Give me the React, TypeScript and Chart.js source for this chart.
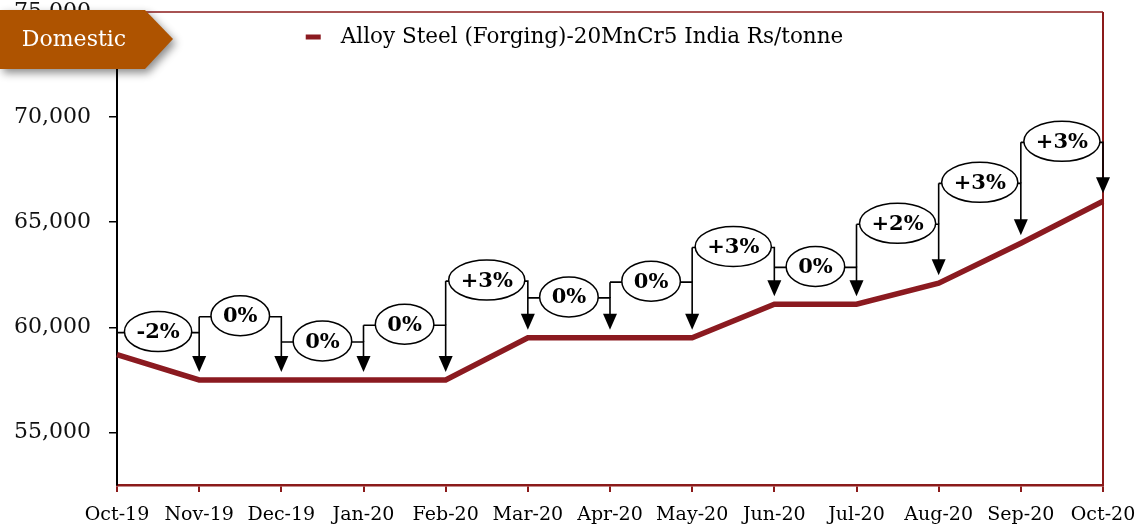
import React, { useEffect, useRef } from "react";
import { Chart, registerables } from "chart.js";

Chart.register(...registerables);

const months = ["Oct-19", "Nov-19", "Dec-19", "Jan-20", "Feb-20", "Mar-20", "Apr-20", "May-20", "Jun-20", "Jul-20", "Aug-20", "Sep-20", "Oct-20"];
const prices = [58700, 57500, 57500, 57500, 57500, 59500, 59500, 59500, 61100, 61100, 62100, 64000, 66000];
const changeLabels = ["-2%", "0%", "0%", "0%", "+3%", "0%", "0%", "+3%", "0%", "+2%", "+3%", "+3%"];
const bracketLevels = [59750, 60500, 59300, 60100, 62200, 61400, 62150, 63800, 62850, 64900, 66850, 68800];
const yTickValues = [55000, 60000, 65000, 70000, 75000];
const yMin = 52500;
const yMax = 75000;
const seriesName = "Alloy Steel (Forging)-20MnCr5 India Rs/tonne";
const tagText = "Domestic";

const LINE_COLOR = "#8B1A20";
const AXIS_RED = "#8B1A1A";
const TAG_COLOR = "#AE5300";
const FONT = "'DejaVu Serif', serif";

const overlayPlugin = {
  id: "overlay",
  afterDraw(chart: any) {
    const ctx = chart.ctx;
    const area = chart.chartArea;
    const xs = chart.scales.x;
    const ys = chart.scales.y;
    ctx.save();

    // top and right frame
    ctx.strokeStyle = AXIS_RED;
    ctx.lineWidth = 1.5;
    ctx.beginPath();
    ctx.moveTo(area.left, area.top);
    ctx.lineTo(area.right, area.top);
    ctx.stroke();
    ctx.lineWidth = 2;
    ctx.beginPath();
    ctx.moveTo(area.right, area.top);
    ctx.lineTo(area.right, area.bottom);
    ctx.stroke();

    // change brackets
    let prevH = 0;
    for (let i = 1; i < months.length; i++) {
      const x0 = xs.getPixelForValue(i - 1);
      const x1 = xs.getPixelForValue(i);
      const h = ys.getPixelForValue(bracketLevels[i - 1]);
      const py = ys.getPixelForValue(prices[i]);
      const tip = py - 8;
      const headH = 16;
      const headW = 7;
      ctx.strokeStyle = "#000";
      ctx.fillStyle = "#000";
      ctx.lineWidth = 1.6;
      ctx.beginPath();
      ctx.moveTo(x0, h);
      ctx.lineTo(x1, h);
      ctx.lineTo(x1, tip - headH + 1);
      ctx.stroke();
      if (i > 1 && h < prevH) {
        ctx.beginPath();
        ctx.moveTo(x0, h);
        ctx.lineTo(x0, prevH);
        ctx.stroke();
      }
      ctx.beginPath();
      ctx.moveTo(x1 - headW, tip - headH);
      ctx.lineTo(x1 + headW, tip - headH);
      ctx.lineTo(x1, tip);
      ctx.closePath();
      ctx.fill();

      ctx.font = `bold 21px ${FONT}`;
      const tw = ctx.measureText(changeLabels[i - 1]).width;
      const cx = (x0 + x1) / 2;
      const cy = h - 1;
      ctx.beginPath();
      ctx.ellipse(cx, cy, tw / 2 + 12, 20, 0, 0, Math.PI * 2);
      ctx.fillStyle = "#fff";
      ctx.fill();
      ctx.lineWidth = 1.5;
      ctx.stroke();
      ctx.fillStyle = "#000";
      ctx.textAlign = "center";
      ctx.textBaseline = "middle";
      ctx.fillText(changeLabels[i - 1], cx, cy + 1);
      prevH = h;
    }

    // legend
    ctx.font = `21.5px ${FONT}`;
    const lw = ctx.measureText(seriesName).width;
    const total = 15 + 20 + lw;
    const lx = chart.width / 2 + 5 - total / 2;
    const ly = 37;
    ctx.strokeStyle = LINE_COLOR;
    ctx.lineWidth = 5;
    ctx.beginPath();
    ctx.moveTo(lx, ly);
    ctx.lineTo(lx + 15, ly);
    ctx.stroke();
    ctx.fillStyle = "#000";
    ctx.textAlign = "left";
    ctx.textBaseline = "middle";
    ctx.fillText(seriesName, lx + 35, ly);

    // tag
    ctx.save();
    ctx.shadowColor = "rgba(0,0,0,0.45)";
    ctx.shadowBlur = 8;
    ctx.shadowOffsetX = 3;
    ctx.shadowOffsetY = 4;
    ctx.fillStyle = TAG_COLOR;
    ctx.beginPath();
    ctx.moveTo(0, 10);
    ctx.lineTo(145, 10);
    ctx.lineTo(173, 39);
    ctx.lineTo(145, 69);
    ctx.lineTo(0, 69);
    ctx.closePath();
    ctx.fill();
    ctx.restore();
    ctx.fillStyle = "#fff";
    ctx.font = `22px ${FONT}`;
    ctx.textAlign = "center";
    ctx.textBaseline = "middle";
    ctx.fillText(tagText, 74, 40);

    ctx.restore();
  },
};

export default function App() {
  const ref = useRef<HTMLCanvasElement | null>(null);
  useEffect(() => {
    document.body.style.margin = "0";
    const canvas = ref.current;
    if (!canvas) return;
    const chart = new Chart(canvas, {
      type: "line",
      data: {
        labels: months,
        datasets: [
          {
            label: seriesName,
            data: prices,
            borderColor: LINE_COLOR,
            backgroundColor: LINE_COLOR,
            borderWidth: 5.5,
            pointRadius: 0,
            tension: 0,
            fill: false,
          },
        ],
      },
      options: {
        animation: false,
        responsive: false,
        maintainAspectRatio: false,
        layout: { padding: 0 },
        plugins: { legend: { display: false }, tooltip: { enabled: false } },
        scales: {
          x: {
            offset: false,
            grid: { display: true, drawOnChartArea: false, drawTicks: true, tickLength: 7, color: AXIS_RED, lineWidth: 2 },
            border: { display: true, color: AXIS_RED, width: 2.5 },
            ticks: { font: { family: FONT, size: 19 }, color: "#000", maxRotation: 0, autoSkip: false, padding: 12 },
            afterFit: (s: any) => {
              s.height = 44;
              s.paddingLeft = 0;
              s.paddingRight = 36;
            },
          },
          y: {
            min: yMin,
            max: yMax,
            grid: { display: true, drawOnChartArea: false, drawTicks: true, tickLength: 8, color: "#000", lineWidth: 1.5 },
            border: { display: true, color: "#000", width: 2 },
            ticks: {
              font: { family: FONT, size: 22 },
              color: "#111",
              padding: 18,
              callback: (v: any) => Number(v).toLocaleString("en-US"),
            },
            afterBuildTicks: (s: any) => {
              s.ticks = yTickValues.map((v) => ({ value: v }));
            },
            afterFit: (s: any) => {
              s.width = 117;
              s.paddingTop = 12;
              s.paddingBottom = 0;
            },
          },
        },
      },
      plugins: [overlayPlugin],
    });
    return () => chart.destroy();
  }, []);
  return (
    <div style={{ width: 1139, height: 529 }}>
      <canvas ref={ref} width={1139} height={529} style={{ display: "block" }} />
    </div>
  );
}
